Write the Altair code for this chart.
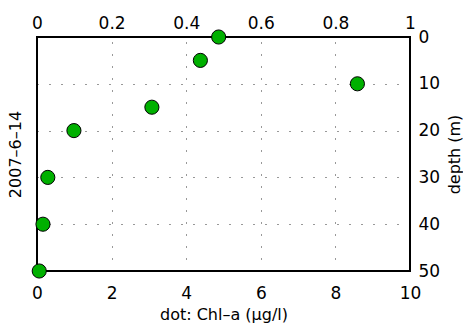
import altair as alt
import pandas as pd

depth = [0, 5, 10, 15, 20, 30, 40, 50]
chl = [4.87, 4.38, 8.59, 3.08, 0.99, 0.29, 0.16, 0.06]
bottom_ticks = [0, 2, 4, 6, 8, 10]
top_ticks = [0, 0.2, 0.4, 0.6, 0.8, 1]
depth_ticks = [0, 10, 20, 30, 40, 50]

df = pd.DataFrame({"chl": chl, "depth": depth})
top_df = pd.DataFrame({"frac": top_ticks})

FONT = "DejaVu Sans"
LS = 17
TS = 16
common = dict(labelFont=FONT, titleFont=FONT, labelFontSize=LS, titleFontSize=TS,
              titleFontWeight="normal", labelColor="black", titleColor="black",
              ticks=False, tickSize=0, domain=False, labelFlush=False)
yscale = alt.Scale(domain=[0, 50], reverse=True, nice=False, zero=False)

points = alt.Chart(df).mark_circle(
    size=200, color="#00B000", stroke="black", strokeWidth=1, opacity=1
).encode(
    x=alt.X("chl:Q", scale=alt.Scale(domain=[0, 10], nice=False),
            axis=alt.Axis(orient="bottom", values=bottom_ticks, title="dot: Chl\u2013a (\u00b5g/l)",
                          grid=True, gridDash=[1, 11], gridColor="black", gridOpacity=0.8,
                          labelPadding=14, titlePadding=5, **common)),
    y=alt.Y("depth:Q", scale=yscale,
            axis=alt.Axis(orient="right", values=depth_ticks, title="depth (m)", titleAngle=270,
                          titleBaseline="top",
                          grid=True, gridDash=[1, 11], gridColor="black", gridOpacity=0.8,
                          labelPadding=8, titlePadding=7, **common)),
)

top_layer = alt.Chart(top_df).mark_point(opacity=0).encode(
    x=alt.X("frac:Q", scale=alt.Scale(domain=[0, 1], nice=False),
            axis=alt.Axis(orient="top", values=top_ticks, title=None, grid=False, format=".1~f",
                          labelPadding=5, **common)),
)

left_layer = alt.Chart(df).mark_point(opacity=0).encode(
    y=alt.Y("depth:Q", scale=yscale,
            axis=alt.Axis(orient="left", labels=False, grid=False, title="2007\u20136\u201314",
                          titlePadding=14, **common)),
)

chart = alt.layer(points, top_layer, left_layer).resolve_scale(
    x="independent", y="independent"
).properties(
    width=373, height=234,
    autosize=alt.AutoSizeParams(type="none"),
    padding={"left": 29, "top": 29, "right": 53, "bottom": 52},
).configure_view(
    stroke="black", strokeWidth=2
)

chart.save("out.html", embed_options={"renderer": "svg", "actions": False})
